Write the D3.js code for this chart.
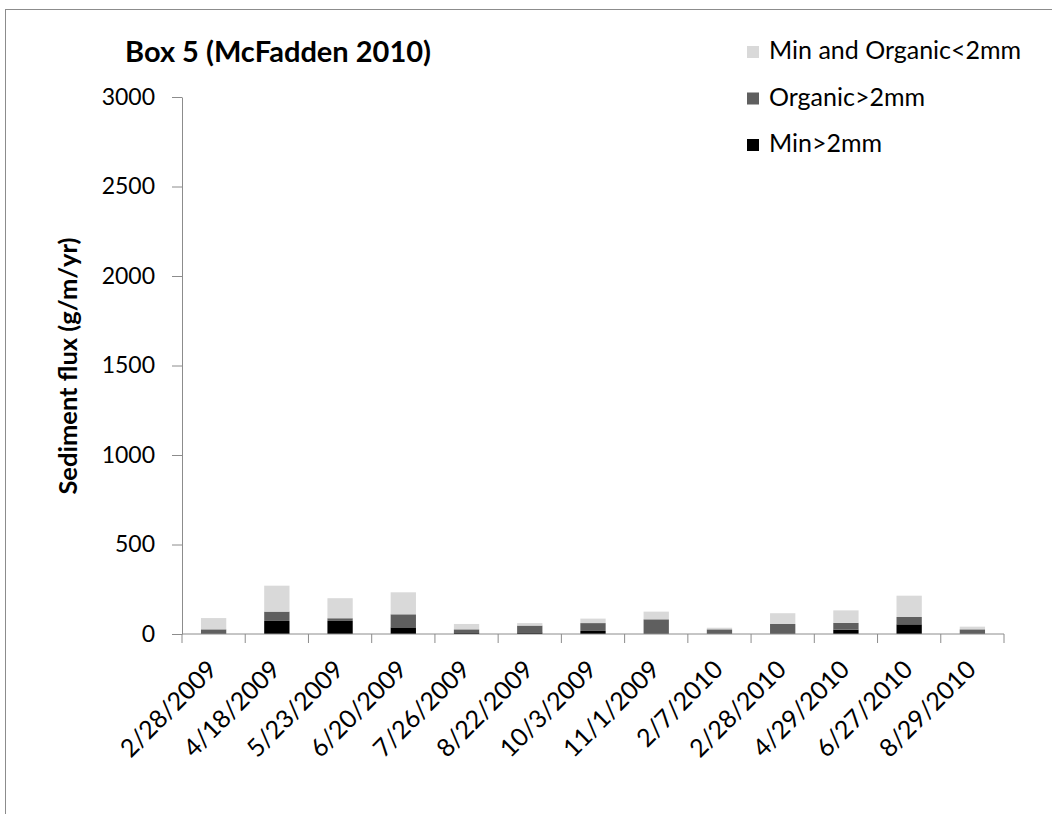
<!DOCTYPE html>
<meta charset="utf-8">
<style>
  body { margin: 0; background: #fff; }
  text { font-family: Lato, "Open Sans", sans-serif; fill: #000; }
</style>
<script src="https://d3js.org/d3.v7.min.js"></script>
<div id="chart"></div>
<script>

// dates sampled
var dates = ["2/28/2009", "4/18/2009", "5/23/2009", "6/20/2009", "7/26/2009", "8/22/2009",
             "10/3/2009", "11/1/2009", "2/7/2010", "2/28/2010", "4/29/2010", "6/27/2010", "8/29/2010"];

// stacked series, bottom to top
var minCoarse = [0, 73, 73, 37, 9, 9, 17, 0, 0, 0, 24, 54, 0];          // Min>2mm
var orgCoarse = [26, 52, 15, 73, 17, 38, 44, 82, 26, 56, 38, 41, 26];   // Organic>2mm
var fine      = [63, 145, 112, 123, 30, 14, 25, 43, 9, 60, 70, 119, 15]; // Min and Organic<2mm

var seriesNames = ["Min>2mm", "Organic>2mm", "Min and Organic<2mm"];
var seriesColors = ["#000000", "#5f5f5f", "#d9d9d9"];
var yTicks = [0, 500, 1000, 1500, 2000, 2500, 3000];

var rows = dates.map(function(d, i) {
  return {date: d, s0: minCoarse[i], s1: orgCoarse[i], s2: fine[i]};
});

var W = 1052, H = 814;
var margin = {top: 97, right: 48, bottom: 180, left: 182};

var svg = d3.select("#chart").append("svg")
  .attr("width", W)
  .attr("height", H);

// outer chart border (only top and left visible in the picture)
svg.append("line").attr("x1", 5).attr("y1", 9.5).attr("x2", W).attr("y2", 9.5)
  .attr("stroke", "#8c8c8c").attr("stroke-width", 1);
svg.append("line").attr("x1", 5.5).attr("y1", 9).attr("x2", 5.5).attr("y2", H)
  .attr("stroke", "#8c8c8c").attr("stroke-width", 1);

var x = d3.scaleBand()
  .domain(dates)
  .range([margin.left, W - margin.right])
  .paddingInner(0.6)
  .paddingOuter(0.3);

var y = d3.scaleLinear()
  .domain([0, 3000])
  .range([634, margin.top]);

var stack = d3.stack().keys(["s0", "s1", "s2"]);
var layers = stack(rows);

svg.append("g").selectAll("g")
  .data(layers)
  .enter().append("g")
    .attr("fill", function(d, i) { return seriesColors[i]; })
  .selectAll("rect")
  .data(function(d) { return d; })
  .enter().append("rect")
    .attr("x", function(d) { return x(d.data.date); })
    .attr("width", x.bandwidth())
    .attr("y", function(d) { return y(d[1]); })
    .attr("height", function(d) { return y(d[0]) - y(d[1]); });

// y axis
var yAxis = svg.append("g")
  .attr("transform", "translate(" + margin.left + ",0)")
  .call(d3.axisLeft(y).tickValues(yTicks).tickFormat(d3.format("d"))
    .tickSize(10).tickPadding(17).tickSizeOuter(0));
yAxis.select(".domain").attr("stroke", "#8c8c8c");
yAxis.selectAll(".tick line").attr("stroke", "#8c8c8c");
yAxis.selectAll("text").style("font-size", "23px").style("font-family", "Lato, sans-serif");

// x axis with ticks at category boundaries
var xAxis = svg.append("g")
  .attr("transform", "translate(0," + y(0) + ")");
xAxis.append("line")
  .attr("x1", margin.left).attr("x2", W - margin.right)
  .attr("stroke", "#8c8c8c");
var step = x.step();
var bounds = d3.range(dates.length + 1).map(function(i) {
  return x(dates[0]) - (step - x.bandwidth()) / 2 + i * step;
});
xAxis.selectAll(".xt")
  .data(bounds)
  .enter().append("line")
    .attr("x1", function(d) { return d; })
    .attr("x2", function(d) { return d; })
    .attr("y1", 0).attr("y2", 9)
    .attr("stroke", "#8c8c8c");

xAxis.selectAll(".xl")
  .data(dates)
  .enter().append("text")
    .attr("text-anchor", "end")
    .style("font-size", "25px")
    .attr("transform", function(d) {
      return "translate(" + (x(d) + x.bandwidth() / 2 + 5) + ",37) rotate(-45)";
    })
    .text(function(d) { return d; });

// y title
svg.append("text")
  .attr("transform", "translate(77,366) rotate(-90)")
  .attr("text-anchor", "middle")
  .style("font-size", "25.5px")
  .style("font-weight", "bold")
  .text("Sediment flux (g/m/yr)");

// chart title
svg.append("text")
  .attr("x", 125).attr("y", 62)
  .style("font-size", "29px")
  .style("font-weight", "bold")
  .text("Box 5 (McFadden 2010)");

// legend, top entry is the top of the stack
var legendOrder = [2, 1, 0];
var legend = svg.append("g").selectAll("g")
  .data(legendOrder)
  .enter().append("g")
    .attr("transform", function(d, i) { return "translate(747," + (52 + i * 46.5) + ")"; });
legend.append("rect")
  .attr("x", 0).attr("y", -6).attr("width", 12).attr("height", 12)
  .attr("fill", function(d) { return seriesColors[d]; });
legend.append("text")
  .attr("x", 22).attr("y", 7)
  .style("font-size", "25px")
  .text(function(d) { return seriesNames[d]; });

</script>
